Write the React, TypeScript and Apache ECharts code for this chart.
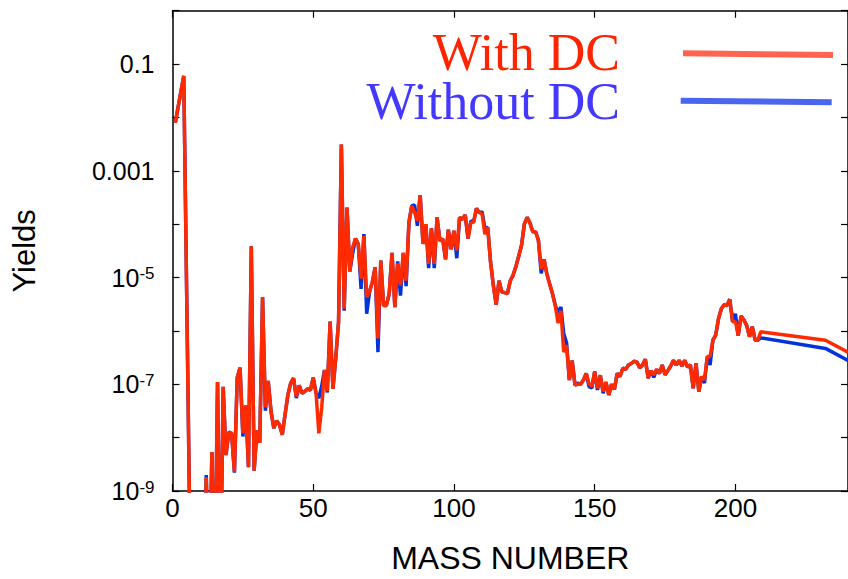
import React, { useEffect, useRef } from 'react';
import * as echarts from 'echarts';

const massNumbers = [
  1, 4, 6, 7, 9, 10, 11,
  12, 13, 14, 15, 16, 17, 18, 19,
  20, 21, 22, 23, 24, 25, 26, 27, 28, 29,
  30, 31, 32, 33, 34, 35, 36, 37, 38, 39,
  40, 41, 42, 43, 44, 45, 46, 47, 48, 49,
  50, 51, 52, 53, 54, 55, 56, 57, 58, 59,
  60, 61, 62, 63, 64, 65, 66, 67, 68, 69,
  70, 71, 72, 73, 74, 75, 76, 77, 78, 79,
  80, 81, 82, 83, 84, 85, 86, 87, 88, 89,
  90, 91, 92, 93, 94, 95, 96, 97, 98, 99,
  100, 101, 102, 103, 104, 105, 106, 107, 108, 109,
  110, 111, 112, 113, 114, 115, 116, 117, 118, 119,
  120, 121, 122, 123, 124, 125, 126, 127, 128, 129,
  130, 131, 132, 133, 134, 135, 136, 137, 138, 139,
  140, 141, 142, 143, 144, 145, 146, 147, 148, 149,
  150, 151, 152, 153, 154, 155, 156, 157, 158, 159,
  160, 161, 162, 163, 164, 165, 166, 167, 168, 169,
  170, 171, 172, 173, 174, 175, 176, 177, 178, 179,
  180, 181, 182, 183, 184, 185, 186, 187, 188, 189,
  190, 191, 192, 193, 194, 195, 196, 197, 198, 199,
  200, 201, 202, 203, 204, 205, 206, 207, 208, 209,
  232, 240,
];

const withDC = [
  8e-3, 6e-2, 8e-10, 1e-11, 1e-11, 1e-11, 1e-11,
  1.8e-9, 1e-11, 5.4e-9, 1e-11, 1.1e-7, 1e-11, 9e-8, 4.7e-9,
  1.27e-8, 1.2e-8, 2.3e-9, 1.33e-7, 2.05e-7, 1.2e-8, 4e-8, 2.8e-9, 3.85e-5, 2.4e-9,
  1.37e-8, 8e-9, 4.3e-6, 3.7e-8, 1.15e-7, 3.1e-8, 1.5e-8, 2.07e-8, 1.74e-8, 1.13e-8,
  2.7e-8, 6.3e-8, 1.05e-7, 1.3e-7, 5.9e-8, 9.5e-8, 6.8e-8, 7.3e-8, 8.2e-8, 7.8e-8,
  1.33e-7, 6.8e-8, 1.2e-8, 3.6e-8, 1.85e-7, 7.5e-8, 1.5e-6, 8.2e-8, 3.05e-7, 1.48e-6,
  3.1e-3, 2.6e-6, 2.05e-4, 1.3e-5, 3.7e-5, 5.4e-5, 4.25e-5, 9.5e-6, 6e-5, 4.3e-6,
  5.4e-6, 8.2e-6, 1.55e-5, 7.2e-7, 2.07e-5, 3e-6, 3e-6, 5e-6, 2.9e-5, 2.8e-6,
  1.85e-5, 7.1e-6, 2.9e-5, 8.7e-6, 1.07e-4, 2.2e-4, 1.66e-4, 1.15e-4, 3.5e-4, 4.25e-5,
  1e-4, 1.8e-5, 8.3e-5, 1.8e-5, 1.34e-4, 4.9e-5, 5.3e-5, 2.2e-5, 7.9e-5, 3.4e-5,
  7.5e-5, 3.2e-5, 1.34e-4, 1.24e-4, 1.48e-4, 5.4e-5, 1.07e-4, 1.1e-4, 1.97e-4, 1.66e-4,
  1.55e-4, 6.5e-5, 8.7e-5, 1.95e-5, 7.1e-6, 3.1e-6, 8.7e-6, 5.4e-6, 5.2e-6, 5e-6,
  8.7e-6, 1.1e-5, 1.6e-5, 2.5e-5, 4e-5, 1e-4, 1.34e-4, 1.05e-4, 7.2e-5, 7.2e-5,
  5e-5, 1.45e-5, 2.2e-5, 1.17e-5, 7.6e-6, 5e-6, 3e-6, 1.4e-6, 2.4e-6, 4e-7,
  5.4e-7, 1.2e-7, 2.8e-7, 9.7e-8, 1e-7, 1e-7, 1.2e-7, 1.6e-7, 1.02e-7, 9.1e-8,
  1.73e-7, 8.4e-8, 1.48e-7, 7.3e-8, 1.1e-7, 6.3e-8, 1e-7, 8e-8, 1.6e-7, 1.4e-7,
  2e-7, 1.9e-7, 2.3e-7, 2.45e-7, 2.7e-7, 2.6e-7, 2.05e-7, 2.3e-7, 2.95e-7, 1.3e-7,
  1.8e-7, 1.5e-7, 1.9e-7, 1.6e-7, 2.3e-7, 1.5e-7, 1.8e-7, 2.2e-7, 2.8e-7, 2.3e-7,
  2.8e-7, 2.2e-7, 2.8e-7, 2.1e-7, 2.3e-7, 8.4e-8, 2.45e-7, 7.3e-8, 1.4e-7, 1.2e-7,
  3.3e-7, 3.3e-7, 6.7e-7, 8.3e-7, 1.7e-6, 2.6e-6, 3.1e-6, 3e-6, 3.9e-6, 1.48e-6,
  1.5e-6, 8.1e-7, 1.9e-6, 1.6e-6, 1.27e-6, 7.8e-7, 1.2e-6, 6.7e-7, 6.7e-7, 9.6e-7,
  6.7e-7, 4e-7,
];

const withoutDC = [
  8e-3, 6e-2, 8e-10, 1e-11, 1e-11, 1e-11, 1e-11,
  2e-9, 1e-11, 5.4e-9, 1e-11, 1.1e-7, 1e-11, 9e-8, 4.7e-9,
  1.27e-8, 1.2e-8, 2.2e-9, 1.33e-7, 2.05e-7, 1.05e-8, 4e-8, 2.8e-9, 3.85e-5, 2.4e-9,
  1.37e-8, 8e-9, 4.3e-6, 3.2e-8, 1.15e-7, 3.1e-8, 1.5e-8, 2.07e-8, 1.74e-8, 1.13e-8,
  2.7e-8, 6.3e-8, 1.05e-7, 1.3e-7, 5.5e-8, 9.5e-8, 6.8e-8, 7.3e-8, 8.2e-8, 7.8e-8,
  1.33e-7, 6.8e-8, 5.5e-8, 9.2e-8, 1.85e-7, 7e-8, 1.5e-6, 8.2e-8, 3.05e-7, 1.48e-6,
  3.1e-3, 2.4e-6, 2.05e-4, 1.3e-5, 2.8e-5, 5.4e-5, 4.25e-5, 6.1e-6, 6.5e-5, 2.1e-6,
  5.4e-6, 8.2e-6, 1.55e-5, 4e-7, 2.07e-5, 3e-6, 3e-6, 5e-6, 2.9e-5, 2.8e-6,
  2e-5, 4.6e-6, 2.9e-5, 6.9e-6, 1.07e-4, 2.2e-4, 2.3e-4, 9.3e-5, 3.5e-4, 4.25e-5,
  1e-4, 1.5e-5, 8.3e-5, 1.5e-5, 1.34e-4, 4.9e-5, 5.3e-5, 2.2e-5, 7.9e-5, 3.4e-5,
  7.5e-5, 2.3e-5, 1.34e-4, 1.24e-4, 1.48e-4, 5.4e-5, 1.15e-4, 1.1e-4, 1.97e-4, 1.66e-4,
  1.7e-4, 8.3e-5, 8.7e-5, 1.95e-5, 7.1e-6, 3.1e-6, 8.7e-6, 5.4e-6, 5.2e-6, 5e-6,
  8.7e-6, 1.1e-5, 1.6e-5, 2.5e-5, 4e-5, 1e-4, 1.34e-4, 1.05e-4, 7.2e-5, 7.2e-5,
  5e-5, 1.2e-5, 2.2e-5, 1.17e-5, 7.6e-6, 5e-6, 3e-6, 2.2e-6, 2.8e-6, 8.9e-7,
  6e-7, 1.2e-7, 2.8e-7, 9.7e-8, 1.05e-7, 1e-7, 1.2e-7, 1.6e-7, 9e-8, 8.5e-8,
  1.73e-7, 7.8e-8, 1.48e-7, 6.8e-8, 1.1e-7, 6.3e-8, 1e-7, 8e-8, 1.6e-7, 1.4e-7,
  2e-7, 1.9e-7, 2.3e-7, 2.45e-7, 2.7e-7, 2.6e-7, 2.05e-7, 2.3e-7, 2.95e-7, 1.3e-7,
  1.8e-7, 1.35e-7, 1.9e-7, 1.6e-7, 2.3e-7, 1.5e-7, 1.8e-7, 2.2e-7, 2.8e-7, 2.3e-7,
  2.8e-7, 2.2e-7, 2.8e-7, 2.1e-7, 2.3e-7, 8.4e-8, 2.45e-7, 7.3e-8, 1.4e-7, 1.05e-7,
  3.3e-7, 2.3e-7, 6.7e-7, 8.3e-7, 1.7e-6, 2.6e-6, 3.1e-6, 3e-6, 3.9e-6, 1.48e-6,
  2.1e-6, 8.1e-7, 1.9e-6, 1.6e-6, 1.27e-6, 7.8e-7, 1.2e-6, 6.7e-7, 6.7e-7, 7.4e-7,
  4.7e-7, 2.8e-7,
];

const seriesNames = ['With DC', 'Without DC'];
const xTickStep = 50;
const yTickExponents = [-1, -3, -5, -7, -9];
const yTickBases = ['0.1', '0.001', '10', '10', '10'];
const yTickSups = ['', '', '-5', '-7', '-9'];

export default function App() {
  const ref = useRef<HTMLDivElement>(null);

  useEffect(() => {
    if (!ref.current) return;
    const chart = echarts.init(ref.current, null, { renderer: 'svg' });
    const sans = "'Liberation Sans', Arial, Helvetica, sans-serif";
    const serif = "'Liberation Serif', 'Times New Roman', serif";
    const redData = massNumbers.map((a, i) => [a, withDC[i]]);
    const blueData = massNumbers.map((a, i) => [a, withoutDC[i]]);

    const yFormatter = (v: number) => {
      const e = Math.round(Math.log10(v));
      const idx = yTickExponents.indexOf(e);
      if (idx < 0) return '';
      if (!yTickSups[idx]) return yTickBases[idx];
      return `{b|${yTickBases[idx]}}{s|${yTickSups[idx]}}`;
    };

    const frameLine = { show: true, onZero: false, lineStyle: { color: '#000', width: 1.5 } };
    const tick = { show: true, inside: true, length: 7, lineStyle: { color: '#000', width: 1.2 } };

    chart.setOption({
      animation: false,
      backgroundColor: '#fff',
      grid: { left: 172.5, top: 10.7, width: 677.3, height: 482.6, containLabel: false },
      xAxis: [
        {
          type: 'value', min: 0, max: 240, interval: xTickStep, position: 'bottom',
          axisLine: frameLine, axisTick: tick, splitLine: { show: false },
          axisLabel: { showMaxLabel: false, color: '#000', fontSize: 26, fontFamily: sans, margin: 4 },
          name: 'MASS NUMBER', nameLocation: 'middle', nameGap: 51,
          nameTextStyle: { fontSize: 32, color: '#000', fontFamily: sans },
        },
        {
          type: 'value', min: 0, max: 240, interval: xTickStep, position: 'top',
          axisLine: frameLine, axisTick: tick, splitLine: { show: false },
          axisLabel: { show: false },
        },
      ],
      yAxis: [
        {
          type: 'log', logBase: 10, min: 1e-9, max: 1, splitNumber: 9, position: 'left',
          axisLine: frameLine, axisTick: tick, splitLine: { show: false }, minorTick: { show: false },
          axisLabel: {
            formatter: yFormatter, color: '#000', fontSize: 25, fontFamily: sans, margin: 18,
            showMinLabel: true, showMaxLabel: true,
            rich: {
              b: { fontSize: 25, fontFamily: sans, color: '#000' },
              s: { fontSize: 17, fontFamily: sans, color: '#000', verticalAlign: 'top', padding: [0, 0, 8, 0] },
            },
          },
          name: 'Yields', nameLocation: 'middle', nameGap: 133, nameRotate: 90,
          nameTextStyle: { fontSize: 31, color: '#000', fontFamily: sans },
        },
        {
          type: 'log', logBase: 10, min: 1e-9, max: 1, splitNumber: 9, position: 'right',
          axisLine: frameLine, axisTick: tick, splitLine: { show: false },
          axisLabel: { show: false },
        },
      ],
      series: [
        {
          name: seriesNames[1], type: 'line', xAxisIndex: 0, yAxisIndex: 0, data: blueData,
          showSymbol: false, symbol: 'none', clip: true, z: 2,
          lineStyle: { color: '#0033dd', width: 3.5 }, itemStyle: { color: '#0033dd' },
        },
        {
          name: seriesNames[0], type: 'line', xAxisIndex: 0, yAxisIndex: 0, data: redData,
          showSymbol: false, symbol: 'none', clip: true, z: 3,
          lineStyle: { color: '#ff2a00', width: 3.5 }, itemStyle: { color: '#ff2a00' },
        },
      ],
      graphic: [
        {
          type: 'text', x: 620, y: 52.5, z: 10,
          style: { text: seriesNames[0], fill: '#ff2400', fontSize: 52, lineHeight: 44, fontFamily: serif, align: 'right', verticalAlign: 'middle' },
        },
        {
          type: 'text', x: 620, y: 101.5, z: 10,
          style: { text: seriesNames[1], fill: '#4438ff', fontSize: 52, lineHeight: 44, fontFamily: serif, align: 'right', verticalAlign: 'middle' },
        },
        {
          type: 'line', z: 10, shape: { x1: 683, y1: 53.3, x2: 833, y2: 55 },
          style: { stroke: '#ff6450', lineWidth: 6 },
        },
        {
          type: 'line', z: 10, shape: { x1: 680.7, y1: 100.7, x2: 831.7, y2: 102.3 },
          style: { stroke: '#4a66f0', lineWidth: 6 },
        },
      ],
    });

    return () => chart.dispose();
  }, []);

  return <div ref={ref} style={{ position: 'fixed', left: 0, top: 0, width: 848, height: 579 }} />;
}
